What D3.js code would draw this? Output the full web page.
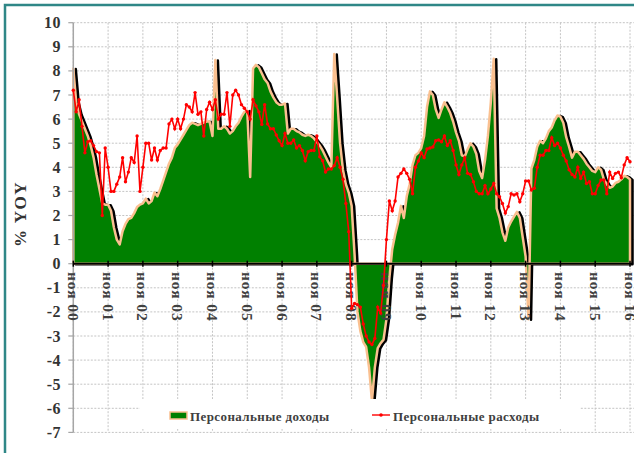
<!DOCTYPE html>
<html>
<head>
<meta charset="utf-8">
<script src="https://cdn.jsdelivr.net/npm/d3@7"></script>
<style>
  body { margin: 0; background: #fff; }
  text { font-family: "Liberation Serif", "Times New Roman", serif; font-weight: bold; }
</style>
</head>
<body>
<svg id="chart" width="634" height="453"></svg>
<script>
// monthly % YoY, Nov 2000 .. Nov 2016
var yearLabels = ["ноя 00","ноя 01","ноя 02","ноя 03","ноя 04","ноя 05","ноя 06","ноя 07","ноя 08",
                  "ноя 09","ноя 10","ноя 11","ноя 12","ноя 13","ноя 14","ноя 15","ноя 16"];

var yTicks = [-7,-6,-5,-4,-3,-2,-1,0,1,2,3,4,5,6,7,8,9,10];

// Персональные доходы
var income = [
  8.1, 6.7, 6.2, 5.9, 5.6, 5.3, 4.9, 4.4, 3.7, 3.1, 2.5, 2.45,
  2.45, 2.2, 1.5, 1.0, 0.8, 1.35, 1.65, 1.85, 1.9, 2.1, 2.35, 2.45,
  2.5, 2.7, 2.5, 2.6, 2.95, 2.8, 3.1, 3.45, 3.8, 4.15, 4.4, 4.8,
  4.95, 5.15, 5.35, 5.55, 5.75, 5.85, 5.8, 5.75, 5.8, 5.85, 5.9, 5.9,
  5.3, 8.45, 5.6, 5.6, 5.7, 5.6, 5.4, 5.5, 5.7, 5.85, 6.1, 6.3,
  6.35, 3.6, 8.1, 8.25, 8.15, 7.9, 7.65, 7.5, 7.15, 6.9, 6.7, 6.6,
  6.6, 6.65, 5.4, 5.6, 5.6, 5.5, 5.45, 5.35, 5.3, 5.35, 5.3, 5.2,
  5.05, 4.9, 4.7, 4.45, 4.2, 4.0, 8.7, 6.9, 5.0, 3.9, 3.3, 2.95,
  2.4, 0.4, -2.0, -2.8, -3.25, -3.45, -4.3, -5.7, -4.3, -3.5, -3.3, -3.15,
  -2.3, -0.6, 0.6, 1.2, 1.7, 2.4, 1.9, 2.8, 3.3, 4.1, 4.5, 4.6,
  4.8, 5.3, 6.5, 7.15, 7.0, 6.4, 6.05, 6.4, 6.7, 6.5, 6.25, 5.9,
  5.45, 5.1, 4.5, 4.45, 4.75, 5.0, 4.85, 4.55, 3.85, 3.55, 4.3, 5.3,
  6.7, 8.5, 2.3, 1.9, 1.3, 0.95, 1.5, 1.75, 1.95, 2.15, 1.9, 1.1,
  0.3, -2.3, 3.95, 4.3, 4.85, 5.1, 5.0, 5.2, 5.5, 5.65, 5.95, 6.15,
  6.1, 5.85, 5.25, 4.85, 4.4, 4.65, 4.65, 4.5, 4.35, 4.15, 4.0, 3.85,
  3.8, 4.0, 3.9, 3.5, 3.3, 3.15, 3.2, 3.35, 3.4, 3.5, 3.65, 3.6,
  3.5
];

// Персональные расходы
var spending = [
  7.2, 6.3, 6.8, 5.7, 4.6, 5.06, 5.1, 4.9, 4.65, 4.6, 2.0, 4.8,
  4.0, 3.0, 3.0, 3.3, 3.6, 4.4, 3.4, 3.8, 4.4, 4.2, 5.3, 3.0,
  4.0, 5.0, 5.0, 4.3, 4.8, 4.3, 4.7, 4.8, 4.8, 5.8, 6.0, 5.6,
  6.0, 5.6, 6.0, 6.6, 6.5, 6.3, 7.1, 6.2, 6.3, 5.3, 6.4, 6.7,
  6.4, 6.8, 6.0, 6.2, 6.2, 7.1, 5.7, 7.0, 7.2, 7.0, 6.6, 6.45,
  6.3, 6.0, 6.8, 6.55, 6.3, 5.78, 6.6, 5.8, 5.6, 5.6, 5.34, 5.1,
  4.9, 5.4, 5.0, 5.0, 5.13, 4.8, 4.9, 4.7, 4.27, 4.65, 4.7, 4.7,
  5.3, 4.44, 4.27, 3.8, 3.93, 3.93, 4.07, 4.4, 4.0, 3.5, 2.5, 1.33,
  -1.85, -1.65, -1.7, -1.8, -2.5, -3.0, -3.25, -3.35, -3.1, -1.8, -2.05, -0.9,
  1.0, 2.6, 2.2, 2.6, 3.6, 3.75, 3.93, 3.75, 3.5, 2.9, 4.0, 4.26,
  4.6, 4.4, 4.76, 4.8, 4.84, 5.1, 5.13, 5.06, 5.3, 4.9, 5.1, 4.7,
  4.1, 3.7, 4.1, 4.4, 3.75, 3.7, 3.4, 3.0, 2.9, 2.9, 3.24, 2.9,
  3.1, 3.33, 2.9, 2.78, 2.5, 2.1, 2.37, 2.9, 2.85, 2.9, 2.57, 2.9,
  3.43, 3.43, 3.06, 3.13, 4.0, 4.5, 4.5, 4.7, 4.7, 5.23, 4.9, 5.0,
  4.8, 4.5, 4.26, 3.9, 3.7, 3.6, 4.0, 3.54, 3.8, 3.33, 3.4, 2.9,
  2.9, 3.24, 3.47, 3.47, 2.9, 3.8, 3.54, 3.75, 3.8, 3.57, 4.1, 4.4,
  4.23
];

var svg = d3.select("#chart");
var plotLeft = 73.3, plotRight = 630, plotTop = 22.7, plotBottom = 432.4;

var x = d3.scaleLinear().domain([0, income.length - 1]).range([plotLeft, plotRight]);
var y = d3.scaleLinear().domain([-7, 10]).range([plotBottom, plotTop]);

// frame
svg.append("rect").attr("x", 0).attr("y", 0).attr("width", 634).attr("height", 453).attr("fill", "#fff");
svg.append("rect")
    .attr("x", 5).attr("y", 5).attr("width", 660).attr("height", 480)
    .attr("fill", "none").attr("stroke", "#2f8787").attr("stroke-width", 2.5);

// grid
svg.append("g").selectAll("line").data(yTicks).enter().append("line")
    .attr("x1", plotLeft).attr("x2", 634)
    .attr("y1", d => y(d)).attr("y2", d => y(d))
    .attr("stroke", "#c4c4c4").attr("stroke-dasharray", "2,1.5");

svg.append("g").selectAll("line").data(yearLabels).enter().append("line")
    .attr("x1", (d, i) => x(i * 12)).attr("x2", (d, i) => x(i * 12))
    .attr("y1", plotTop).attr("y2", plotBottom)
    .attr("stroke", "#c4c4c4").attr("stroke-dasharray", "2,1.5");

// income area with shadow
var area = d3.area()
    .x((d, i) => x(i))
    .y0(y(0))
    .y1(d => y(d));

svg.append("path").datum(income)
    .attr("d", area)
    .attr("transform", "translate(2.5,0.5)")
    .attr("fill", "#000").attr("stroke", "#000").attr("stroke-width", 2.5)
    .attr("stroke-linejoin", "round");

svg.append("path").datum(income)
    .attr("d", area)
    .attr("fill", "#008000").attr("stroke", "#fac090").attr("stroke-width", 2.5)
    .attr("stroke-linejoin", "round");

// y axis
svg.append("line").attr("x1", plotLeft).attr("x2", plotLeft).attr("y1", plotTop).attr("y2", plotBottom)
    .attr("stroke", "#a6a6a6").attr("stroke-width", 1.5);
svg.append("g").selectAll("line").data(yTicks).enter().append("line")
    .attr("x1", plotLeft - 5).attr("x2", plotLeft)
    .attr("y1", d => y(d)).attr("y2", d => y(d))
    .attr("stroke", "#a6a6a6").attr("stroke-width", 1.2);
svg.append("g").selectAll("text").data(yTicks).enter().append("text")
    .attr("x", 61).attr("y", d => y(d))
    .attr("text-anchor", "end").attr("dominant-baseline", "central")
    .attr("font-size", 16).attr("letter-spacing", 0.5).attr("fill", "#333")
    .text(d => d);

// zero line and year ticks
svg.append("line").attr("x1", plotLeft).attr("x2", 632).attr("y1", y(0)).attr("y2", y(0))
    .attr("stroke", "#000").attr("stroke-width", 2);
svg.append("g").selectAll("line").data(yearLabels).enter().append("line")
    .attr("x1", (d, i) => x(i * 12)).attr("x2", (d, i) => x(i * 12))
    .attr("y1", y(0) - 3).attr("y2", y(0) + 3)
    .attr("stroke", "#000").attr("stroke-width", 1.5);

// year labels
svg.append("g").selectAll("text").data(yearLabels).enter().append("text")
    .attr("transform", (d, i) => "translate(" + x(i * 12) + ",272) rotate(90)")
    .attr("text-anchor", "start").attr("dominant-baseline", "central")
    .attr("font-size", 15.5).attr("letter-spacing", 0.9).attr("fill", "#404040")
    .text(d => d);

// spending line
var line = d3.line().x((d, i) => x(i)).y(d => y(d));
svg.append("path").datum(spending)
    .attr("d", line)
    .attr("fill", "none").attr("stroke", "#ff0000").attr("stroke-width", 1.6);
svg.append("g").selectAll("circle").data(spending).enter().append("circle")
    .attr("cx", (d, i) => x(i)).attr("cy", d => y(d)).attr("r", 1.7)
    .attr("fill", "#ff0000");

// y title
svg.append("text")
    .attr("transform", "translate(20,214) rotate(-90)")
    .attr("text-anchor", "middle").attr("dominant-baseline", "central")
    .attr("font-size", 17).attr("letter-spacing", 1.5).attr("fill", "#333")
    .text("% YOY");

// legend
var lg = svg.append("g");
lg.append("rect").attr("x", 140).attr("y", 399).attr("width", 440).attr("height", 30).attr("fill", "#fff");
lg.append("rect").attr("x", 170).attr("y", 412).attr("width", 17).attr("height", 7)
    .attr("fill", "#008000").attr("stroke", "#fac090").attr("stroke-width", 1.5);
lg.append("text").attr("x", 190).attr("y", 421)
    .attr("font-size", 13).attr("letter-spacing", 0.4).attr("fill", "#404040")
    .text("Персональные доходы");
lg.append("line").attr("x1", 372).attr("x2", 390).attr("y1", 415).attr("y2", 415)
    .attr("stroke", "#ff0000").attr("stroke-width", 1.4);
lg.append("circle").attr("cx", 381).attr("cy", 415).attr("r", 1.8).attr("fill", "#ff0000");
lg.append("text").attr("x", 393).attr("y", 421)
    .attr("font-size", 13).attr("letter-spacing", 0.4).attr("fill", "#404040")
    .text("Персональные расходы");
</script>
</body>
</html>
